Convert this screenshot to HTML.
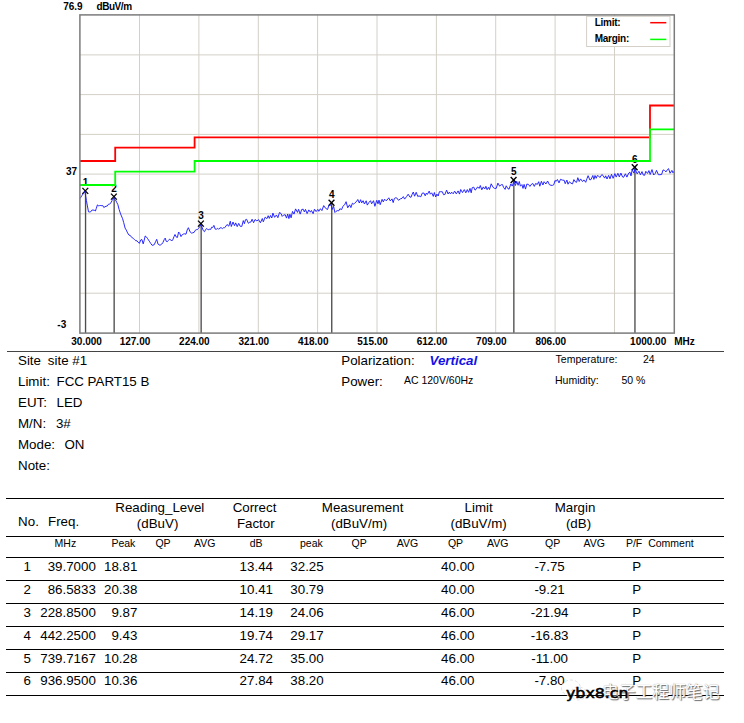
<!DOCTYPE html>
<html lang="zh"><head><meta charset="utf-8"><title>EMI test report</title>
<style>
html,body{margin:0;padding:0;background:#fff}
body{width:744px;height:723px;position:relative;overflow:hidden;font-family:"Liberation Sans","Noto Sans CJK SC",sans-serif;color:#000}
.chart{position:absolute;left:0;top:0}
.t,.s{position:absolute;white-space:nowrap;line-height:1}
.t{font-size:13.33px;line-height:15px}
.s{font-size:10.5px;line-height:12px}
.c{text-align:center}
.r{text-align:right}
.sep{position:absolute;left:6.5px;top:350.8px;width:717px;height:1.6px;background:#444}
.hl{position:absolute;left:6px;width:718px;height:1px;background:#000;box-shadow:0 0 0.6px rgba(0,0,0,.55)}
.wx{position:absolute;left:560px;top:678px}
.wm1{position:absolute;left:565.6px;top:685.5px;font-family:"DejaVu Sans",sans-serif;font-weight:normal;-webkit-text-stroke:0.5px #000;font-size:13.2px;line-height:16px;transform-origin:0 0;transform:scaleX(1.2);white-space:nowrap}
.wm2{position:absolute;left:602px;top:678.5px;font-family:"Noto Sans CJK SC","WenQuanYi Zen Hei",sans-serif;font-size:16.8px;line-height:24px;color:#fff;text-shadow:1px 1px 1px #666,0 0 1px #999;white-space:nowrap}
</style></head>
<body>
<svg class="chart" width="744" height="352" viewBox="0 0 744 352">
<style>.cb{font-family:"Liberation Sans",sans-serif;font-weight:bold;font-size:10px;fill:#000}</style>
<rect x="80" y="15" width="594" height="318" fill="#fff"/>
<g stroke="#d4d0c8" stroke-width="1"><line x1="139.5" y1="15" x2="139.5" y2="333"/><line x1="198.9" y1="15" x2="198.9" y2="333"/><line x1="258.3" y1="15" x2="258.3" y2="333"/><line x1="317.6" y1="15" x2="317.6" y2="333"/><line x1="377.0" y1="15" x2="377.0" y2="333"/><line x1="436.4" y1="15" x2="436.4" y2="333"/><line x1="495.7" y1="15" x2="495.7" y2="333"/><line x1="555.1" y1="15" x2="555.1" y2="333"/><line x1="614.5" y1="15" x2="614.5" y2="333"/><line x1="80" y1="54.9" x2="674" y2="54.9"/><line x1="80" y1="94.6" x2="674" y2="94.6"/><line x1="80" y1="134.4" x2="674" y2="134.4"/><line x1="80" y1="174.1" x2="674" y2="174.1"/><line x1="80" y1="213.8" x2="674" y2="213.8"/><line x1="80" y1="253.5" x2="674" y2="253.5"/><line x1="80" y1="293.2" x2="674" y2="293.2"/></g>
<rect x="586.6" y="16.3" width="83.4" height="30.2" fill="#fff" stroke="#d4d0c8" stroke-width="1"/>
<text x="594.7" y="26.3" class="cb" font-size="9.2" letter-spacing="-0.25">Limit:</text>
<text x="594.7" y="41.7" class="cb" font-size="9.2" letter-spacing="-0.25">Margin:</text>
<line x1="650.2" y1="22.7" x2="666.3" y2="22.7" stroke="#ff0000" stroke-width="1.5"/>
<line x1="650.2" y1="39.4" x2="666.3" y2="39.4" stroke="#00ff00" stroke-width="1.5"/>
<line x1="85.55" y1="190.9" x2="85.55" y2="333" stroke="#4d4d4d" stroke-width="1.35"/><line x1="114.15" y1="196.6" x2="114.15" y2="333" stroke="#4d4d4d" stroke-width="1.35"/><line x1="201.15" y1="223.6" x2="201.15" y2="333" stroke="#4d4d4d" stroke-width="1.35"/><line x1="331.75" y1="202.8" x2="331.75" y2="333" stroke="#4d4d4d" stroke-width="1.35"/><line x1="513.85" y1="180.0" x2="513.85" y2="333" stroke="#4d4d4d" stroke-width="1.35"/><line x1="634.95" y1="167.3" x2="634.95" y2="333" stroke="#4d4d4d" stroke-width="1.35"/><g stroke="#000" stroke-width="1.35"><line x1="82.4" y1="187.9" x2="88.2" y2="193.9"/><line x1="88.2" y1="187.9" x2="82.4" y2="193.9"/></g><text x="85.5" y="186.3" text-anchor="middle" class="cb" font-size="9.8">1</text><g stroke="#000" stroke-width="1.35"><line x1="111.0" y1="193.6" x2="116.8" y2="199.6"/><line x1="116.8" y1="193.6" x2="111.0" y2="199.6"/></g><text x="114.1" y="192.0" text-anchor="middle" class="cb" font-size="9.8">2</text><g stroke="#000" stroke-width="1.35"><line x1="198.0" y1="220.6" x2="203.8" y2="226.6"/><line x1="203.8" y1="220.6" x2="198.0" y2="226.6"/></g><text x="201.1" y="219.0" text-anchor="middle" class="cb" font-size="9.8">3</text><g stroke="#000" stroke-width="1.35"><line x1="328.6" y1="199.8" x2="334.4" y2="205.8"/><line x1="334.4" y1="199.8" x2="328.6" y2="205.8"/></g><text x="331.7" y="198.2" text-anchor="middle" class="cb" font-size="9.8">4</text><g stroke="#000" stroke-width="1.35"><line x1="510.7" y1="177.0" x2="516.5" y2="183.0"/><line x1="516.5" y1="177.0" x2="510.7" y2="183.0"/></g><text x="513.8" y="175.4" text-anchor="middle" class="cb" font-size="9.8">5</text><g stroke="#000" stroke-width="1.35"><line x1="631.8" y1="164.3" x2="637.6" y2="170.3"/><line x1="637.6" y1="164.3" x2="631.8" y2="170.3"/></g><text x="634.9" y="162.7" text-anchor="middle" class="cb" font-size="9.8">6</text>
<polyline points="80.0,198.5 81.1,196.9 82.0,195.4 83.3,193.6 84.2,192.2 85.1,191.4 85.4,194.8 86.4,200.5 87.4,205.9 88.5,211.8 89.6,212.0 90.6,211.9 91.9,210.1 92.9,210.0 94.3,210.3 95.4,211.0 96.3,208.4 97.4,204.9 98.3,205.7 99.6,205.6 100.8,205.5 101.9,205.7 102.8,205.6 103.8,207.5 105.0,206.7 106.1,206.2 107.2,206.1 108.4,204.3 109.6,204.0 111.0,202.8 112.0,200.6 113.4,198.6 113.8,197.4 114.4,199.0 115.5,199.9 116.7,202.3 117.9,204.7 119.1,209.4 120.3,213.1 121.4,215.9 122.6,218.7 123.7,222.6 125.1,228.1 126.3,230.1 127.6,232.9 128.9,235.0 130.0,235.5 131.2,236.4 132.4,238.0 133.3,238.5 134.6,239.5 135.6,240.7 137.0,240.8 138.1,242.2 139.4,243.3 140.8,239.9 141.9,239.5 143.2,243.9 144.2,240.3 145.2,236.0 146.3,236.8 147.4,238.3 148.5,240.0 149.7,241.8 150.9,243.7 152.1,245.3 153.0,245.2 154.3,244.6 155.6,241.6 156.7,239.3 158.0,244.1 158.9,244.7 159.9,245.2 160.8,244.8 161.8,244.0 162.8,242.8 164.2,239.6 165.2,238.1 166.2,241.3 167.2,241.7 168.6,240.3 169.7,239.1 170.7,239.8 171.7,241.0 172.7,239.9 174.1,236.4 175.0,234.5 176.0,236.8 177.4,237.5 178.6,232.0 179.7,233.3 181.0,236.6 182.3,234.6 183.3,234.1 184.7,233.8 186.0,234.2 187.2,229.9 188.4,227.7 189.3,230.0 190.3,232.2 191.6,233.1 192.7,232.8 194.1,232.4 195.2,230.4 196.2,229.7 197.2,229.7 198.6,228.4 199.7,226.6 201.0,224.7 201.3,225.2 201.9,226.9 203.2,230.5 204.5,231.7 205.6,229.5 206.9,228.5 208.2,229.9 209.3,229.3 210.7,229.4 211.7,227.2 212.6,227.6 213.9,225.4 215.2,229.1 216.5,229.2 217.6,228.3 218.6,229.3 219.8,228.0 221.1,227.7 222.5,228.6 223.5,227.7 224.5,227.8 225.2,227.1 227.0,224.5 228.8,226.2 230.3,221.2 231.3,226.5 233.0,222.0 234.5,225.7 235.7,222.9 237.2,226.6 238.7,223.4 240.2,226.3 241.8,226.4 243.3,220.6 244.4,223.7 245.5,219.7 246.6,219.3 248.4,223.3 249.8,222.1 250.9,222.1 252.1,219.2 253.6,222.7 255.0,219.5 256.9,220.9 258.6,219.6 260.4,222.8 262.3,218.5 263.3,221.8 265.2,217.1 266.9,218.7 268.2,215.7 269.3,218.4 270.5,215.5 271.8,218.0 272.9,213.1 274.6,217.3 276.4,215.0 277.9,217.7 279.5,212.5 281.1,213.6 282.2,216.4 283.4,215.2 285.2,214.7 286.5,218.1 287.7,214.0 288.9,218.6 289.9,214.2 291.1,217.8 292.5,211.4 294.0,214.1 295.6,208.9 297.5,212.4 298.6,209.3 300.2,214.1 301.7,209.5 303.2,209.2 304.4,212.0 305.5,209.4 307.1,213.6 308.8,209.9 310.4,212.2 311.4,210.5 313.1,213.7 314.5,209.2 316.1,211.6 317.8,209.4 318.8,211.3 320.4,208.7 321.9,210.6 323.7,205.6 325.6,208.3 327.5,209.5 328.9,205.4 331.2,204.9 332.2,209.5 333.6,206.3 334.9,212.5 336.0,211.4 337.3,210.6 338.8,210.8 339.8,208.8 341.7,209.5 342.8,206.4 344.6,204.8 346.1,201.7 347.7,207.8 349.6,204.8 350.9,207.6 352.4,203.2 353.6,204.2 355.0,202.7 356.4,201.7 357.8,199.5 359.3,203.0 360.6,199.7 361.7,202.9 363.1,200.7 364.4,204.0 366.2,200.8 367.3,205.1 368.8,202.6 370.5,200.7 371.6,203.8 373.5,200.7 374.9,206.3 376.7,200.3 378.0,203.8 379.0,200.1 380.2,204.7 382.1,199.3 383.3,201.9 384.6,199.2 386.0,200.7 387.2,199.9 388.8,197.8 390.2,200.9 392.0,198.9 393.2,202.6 394.4,198.4 395.6,197.8 396.7,197.9 398.5,200.3 400.3,198.9 402.0,198.3 403.3,196.6 404.6,199.1 406.5,196.7 408.2,194.2 410.0,197.2 411.1,197.1 412.1,194.4 413.3,192.0 414.6,196.2 416.2,192.3 417.9,196.7 418.9,195.8 420.8,196.8 422.2,193.2 423.9,193.0 425.2,195.8 426.3,193.2 427.3,194.4 429.2,191.1 430.3,194.2 431.7,192.8 433.3,196.4 434.4,192.5 435.7,197.0 436.9,194.1 438.2,196.0 439.4,191.7 440.5,191.7 442.4,191.8 443.5,194.7 444.9,194.5 446.6,190.1 448.1,194.0 449.3,192.1 450.5,193.9 451.7,192.2 453.2,193.8 454.6,191.1 456.3,193.9 458.1,190.9 459.5,194.1 460.7,189.5 462.5,192.6 464.3,189.6 465.8,192.8 467.3,189.6 468.6,192.3 470.0,188.4 471.2,192.8 472.2,187.7 473.8,187.2 475.0,190.1 476.1,189.3 477.5,187.0 479.3,188.3 480.3,185.5 481.8,189.8 483.3,186.9 484.7,189.0 485.9,186.3 487.1,189.7 488.5,187.3 489.5,189.5 491.2,183.8 493.1,187.4 494.7,188.4 496.2,188.4 497.9,183.1 499.6,186.1 501.3,184.7 502.5,184.6 503.5,187.3 505.1,189.4 506.2,185.8 508.0,188.8 509.1,189.1 510.8,183.9 512.2,186.1 513.9,181.5 515.4,185.5 516.7,181.3 518.1,185.3 519.3,181.5 520.4,186.2 521.9,184.6 523.0,188.4 524.1,184.4 525.5,189.1 526.8,184.1 528.5,184.4 529.9,186.4 531.6,184.1 532.8,183.5 534.3,186.4 535.6,183.5 537.3,184.4 538.7,181.7 539.8,186.2 541.4,181.3 542.9,185.0 544.1,181.7 545.9,184.0 547.6,181.0 549.4,184.7 551.0,185.3 552.4,185.4 553.8,184.7 555.0,180.5 556.1,181.4 557.4,179.5 559.0,182.9 560.5,179.3 562.3,180.1 564.2,180.3 565.2,183.7 566.9,180.1 568.0,184.2 569.4,181.8 571.0,183.2 572.5,183.9 573.9,179.6 575.5,182.0 576.6,182.3 577.8,177.7 579.2,181.5 580.6,178.9 582.5,181.6 583.9,179.9 585.7,182.3 587.0,178.5 588.1,175.7 589.9,180.0 591.1,179.4 592.8,175.5 593.9,179.4 595.0,175.5 596.2,178.3 597.3,175.6 598.5,175.9 599.9,177.5 601.8,174.6 602.9,175.3 604.6,178.1 605.7,175.8 607.0,179.0 608.6,175.4 610.0,178.8 611.5,174.3 613.1,178.3 614.9,173.6 616.2,177.1 617.9,173.3 619.3,176.9 620.9,173.1 622.6,177.0 623.6,177.3 625.4,173.8 626.9,177.1 628.7,173.1 629.9,172.1 631.0,175.9 632.2,169.6 633.9,173.1 635.0,168.8 637.2,173.9 638.9,171.2 640.4,174.8 642.0,171.6 643.3,175.1 644.6,175.3 645.8,171.3 647.5,173.4 648.9,170.6 650.2,174.5 652.0,169.6 653.7,175.0 655.3,173.4 656.5,170.3 658.4,174.7 659.9,174.7 661.6,174.5 663.1,169.9 664.6,170.5 666.0,171.9 667.5,169.5 668.5,168.6 670.1,173.2 671.9,170.4 673.0,172.9 673.8,171.3" fill="none" stroke="#1c1cff" stroke-width="0.95" stroke-linejoin="round"/>
<polyline points="80,161 115.2,161 115.2,147.6 194.6,147.6 194.6,137.3 650,137.3 650,105.5 674,105.5" fill="none" stroke="#ff0000" stroke-width="1.8"/>
<polyline points="80,185 115.2,185 115.2,171.6 194.6,171.6 194.6,161 650,161 650,129.4 674,129.4" fill="none" stroke="#00ff00" stroke-width="1.8"/>
<rect x="79.9" y="14.9" width="594.4" height="318.2" fill="none" stroke="#7b7b7b" stroke-width="1.5"/>
<text x="63.2" y="9.5" class="cb">76.9</text>
<text x="96.5" y="9.5" class="cb" letter-spacing="-0.45">dBuV/m</text>
<text x="66" y="174.8" class="cb">37</text>
<text x="57.3" y="327.5" class="cb">-3</text>
<text x="71.3" y="344.6" class="cb">30.000</text><text x="119.7" y="344.6" class="cb">127.00</text><text x="179.1" y="344.6" class="cb">224.00</text><text x="238.5" y="344.6" class="cb">321.00</text><text x="297.9" y="344.6" class="cb">418.00</text><text x="357.3" y="344.6" class="cb">515.00</text><text x="416.7" y="344.6" class="cb">612.00</text><text x="476.1" y="344.6" class="cb">709.00</text><text x="535.5" y="344.6" class="cb">806.00</text><text x="630.1" y="344.6" class="cb">1000.00</text><text x="674.2" y="344.6" class="cb">MHz</text>
</svg>

<div class="sep"></div>
<div class="t" style="left:18px;top:352.7px">Site</div><div class="t" style="left:47.8px;top:352.7px">site #1</div>
<div class="t" style="left:18px;top:373.7px">Limit:</div><div class="t" style="left:56.5px;top:373.7px">FCC PART15 B</div>
<div class="t" style="left:18px;top:394.6px">EUT:</div><div class="t" style="left:56.5px;top:394.6px">LED</div>
<div class="t" style="left:18px;top:415.6px">M/N:</div><div class="t" style="left:55.9px;top:415.6px">3#</div>
<div class="t" style="left:18px;top:436.6px">Mode:</div><div class="t" style="left:64.5px;top:436.6px">ON</div>
<div class="t" style="left:18px;top:457.5px">Note:</div>
<div class="t" style="left:341.3px;top:352.7px">Polarization:</div>
<div class="t" style="left:429.5px;top:352.7px;color:#1212e6;font-weight:bold;font-style:italic">Vertical</div>
<div class="t" style="left:341.3px;top:373.7px">Power:</div>
<div class="s" style="left:403.9px;top:374.1px">AC 120V/60Hz</div>
<div class="s" style="left:555.6px;top:352.9px">Temperature:</div><div class="s" style="left:643px;top:352.9px">24</div>
<div class="s" style="left:555px;top:374.1px">Humidity:</div><div class="s" style="left:621.5px;top:374.1px">50 %</div>

<div class="hl" style="top:498px"></div><div class="hl" style="top:536px"></div><div class="hl" style="top:557px"></div><div class="hl" style="top:580px"></div><div class="hl" style="top:603px"></div><div class="hl" style="top:626px"></div><div class="hl" style="top:649px"></div><div class="hl" style="top:672px"></div><div class="hl" style="top:695px"></div><div class="t" style="left:18.1px;top:513.8px">No.</div><div class="t" style="left:48.0px;top:513.8px">Freq.</div><div class="t c" style="left:99.8px;width:120px;top:499.7px">Reading_Level</div><div class="t c" style="left:97.6px;width:120px;top:515.8px">(dBuV)</div><div class="t c" style="left:194.5px;width:120px;top:499.7px">Correct</div><div class="t c" style="left:195.8px;width:120px;top:515.8px">Factor</div><div class="t c" style="left:302.6px;width:120px;top:499.7px">Measurement</div><div class="t c" style="left:299.1px;width:120px;top:515.8px">(dBuV/m)</div><div class="t c" style="left:418.6px;width:120px;top:499.7px">Limit</div><div class="t c" style="left:418.6px;width:120px;top:515.8px">(dBuV/m)</div><div class="t c" style="left:515.0px;width:120px;top:499.7px">Margin</div><div class="t c" style="left:518.5px;width:120px;top:515.8px">(dB)</div><div class="s c" style="left:5.4px;width:120px;top:537.4px">MHz</div><div class="s c" style="left:63.4px;width:120px;top:537.4px">Peak</div><div class="s c" style="left:103.0px;width:120px;top:537.4px">QP</div><div class="s c" style="left:144.8px;width:120px;top:537.4px">AVG</div><div class="s c" style="left:196.1px;width:120px;top:537.4px">dB</div><div class="s c" style="left:251.4px;width:120px;top:537.4px">peak</div><div class="s c" style="left:299.1px;width:120px;top:537.4px">QP</div><div class="s c" style="left:347.5px;width:120px;top:537.4px">AVG</div><div class="s c" style="left:395.5px;width:120px;top:537.4px">QP</div><div class="s c" style="left:437.8px;width:120px;top:537.4px">AVG</div><div class="s c" style="left:492.7px;width:120px;top:537.4px">QP</div><div class="s c" style="left:534.2px;width:120px;top:537.4px">AVG</div><div class="s c" style="left:574.1px;width:120px;top:537.4px">P/F</div><div class="s c" style="left:610.9px;width:120px;top:537.4px">Comment</div><div class="t c" style="left:7.2px;width:40px;top:558.5px">1</div><div class="t r" style="left:-24.2px;width:120px;top:558.5px">39.7000</div><div class="t r" style="left:17.4px;width:120px;top:558.5px">18.81</div><div class="t c" style="left:196.3px;width:120px;top:558.5px">13.44</div><div class="t c" style="left:247.0px;width:120px;top:558.5px">32.25</div><div class="t c" style="left:397.8px;width:120px;top:558.5px">40.00</div><div class="t c" style="left:489.6px;width:120px;top:558.5px">-7.75</div><div class="t c" style="left:616.7px;width:40px;top:558.5px">P</div><div class="t c" style="left:7.2px;width:40px;top:581.5px">2</div><div class="t r" style="left:-24.2px;width:120px;top:581.5px">86.5833</div><div class="t r" style="left:17.4px;width:120px;top:581.5px">20.38</div><div class="t c" style="left:196.3px;width:120px;top:581.5px">10.41</div><div class="t c" style="left:247.0px;width:120px;top:581.5px">30.79</div><div class="t c" style="left:397.8px;width:120px;top:581.5px">40.00</div><div class="t c" style="left:489.6px;width:120px;top:581.5px">-9.21</div><div class="t c" style="left:616.7px;width:40px;top:581.5px">P</div><div class="t c" style="left:7.2px;width:40px;top:604.5px">3</div><div class="t r" style="left:-24.2px;width:120px;top:604.5px">228.8500</div><div class="t r" style="left:17.4px;width:120px;top:604.5px">9.87</div><div class="t c" style="left:196.3px;width:120px;top:604.5px">14.19</div><div class="t c" style="left:247.0px;width:120px;top:604.5px">24.06</div><div class="t c" style="left:397.8px;width:120px;top:604.5px">46.00</div><div class="t c" style="left:489.6px;width:120px;top:604.5px">-21.94</div><div class="t c" style="left:616.7px;width:40px;top:604.5px">P</div><div class="t c" style="left:7.2px;width:40px;top:627.5px">4</div><div class="t r" style="left:-24.2px;width:120px;top:627.5px">442.2500</div><div class="t r" style="left:17.4px;width:120px;top:627.5px">9.43</div><div class="t c" style="left:196.3px;width:120px;top:627.5px">19.74</div><div class="t c" style="left:247.0px;width:120px;top:627.5px">29.17</div><div class="t c" style="left:397.8px;width:120px;top:627.5px">46.00</div><div class="t c" style="left:489.6px;width:120px;top:627.5px">-16.83</div><div class="t c" style="left:616.7px;width:40px;top:627.5px">P</div><div class="t c" style="left:7.2px;width:40px;top:650.5px">5</div><div class="t r" style="left:-24.2px;width:120px;top:650.5px">739.7167</div><div class="t r" style="left:17.4px;width:120px;top:650.5px">10.28</div><div class="t c" style="left:196.3px;width:120px;top:650.5px">24.72</div><div class="t c" style="left:247.0px;width:120px;top:650.5px">35.00</div><div class="t c" style="left:397.8px;width:120px;top:650.5px">46.00</div><div class="t c" style="left:489.6px;width:120px;top:650.5px">-11.00</div><div class="t c" style="left:616.7px;width:40px;top:650.5px">P</div><div class="t c" style="left:7.2px;width:40px;top:673.4px">6</div><div class="t r" style="left:-24.2px;width:120px;top:673.4px">936.9500</div><div class="t r" style="left:17.4px;width:120px;top:673.4px">10.36</div><div class="t c" style="left:196.3px;width:120px;top:673.4px">27.84</div><div class="t c" style="left:247.0px;width:120px;top:673.4px">38.20</div><div class="t c" style="left:397.8px;width:120px;top:673.4px">46.00</div><div class="t c" style="left:489.6px;width:120px;top:673.4px">-7.80</div><div class="t c" style="left:616.7px;width:40px;top:673.4px">P</div>

<svg class="wx" width="30" height="26" viewBox="0 0 30 26"><g fill="none" stroke="#dcdcdc" stroke-width="0.9" stroke-dasharray="3 2"><ellipse cx="11" cy="10" rx="9.5" ry="8"/><ellipse cx="18.500" cy="15.500" rx="8" ry="6.500"/></g></svg>
<div class="wm2">电子工程师笔记</div>
<div class="wm1">ybx8.cn</div>

</body></html>
